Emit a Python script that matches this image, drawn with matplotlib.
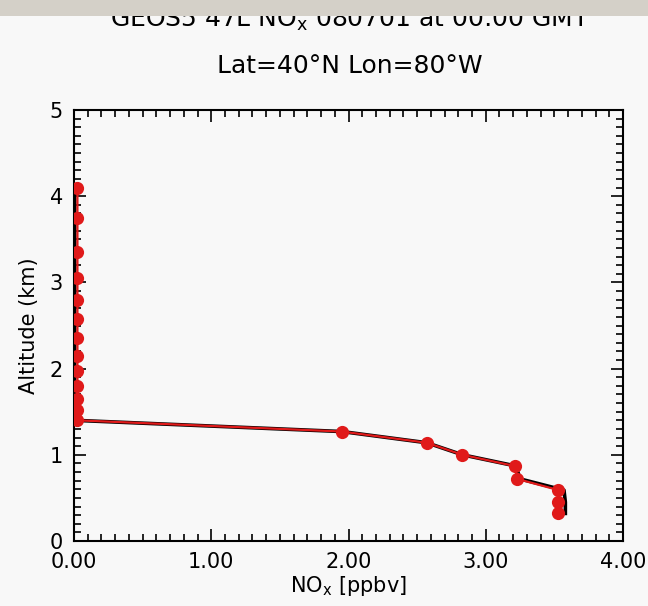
import matplotlib
matplotlib.use("Agg")
import matplotlib.pyplot as plt
from matplotlib.patches import Rectangle
from matplotlib.ticker import MultipleLocator, FormatStrFormatter

# vertical profile
alt_km = [4.10, 3.75, 3.35, 3.05, 2.80, 2.57, 2.35, 2.15, 1.97, 1.80, 1.65, 1.52, 1.40,
          1.27, 1.14, 1.00, 0.87, 0.72, 0.59, 0.45, 0.32]
nox_red = [0.025] * 13 + [1.95, 2.57, 2.83, 3.21, 3.23, 3.53, 3.53, 3.53]
nox_black = [0.005] * 13 + [1.95, 2.57, 2.83, 3.22, 3.25, 3.57, 3.58, 3.58]

title1 = r"GEOS5 47L NO$_\mathrm{x}$ 080701 at 00:00 GMT"
title2 = "Lat=40\u00b0N Lon=80\u00b0W"

fig = plt.figure(figsize=(6.48, 6.06), dpi=100, facecolor="#f8f8f8")
ax = fig.add_axes([74 / 648, 65 / 606, 549 / 648, 431 / 606])
ax.set_facecolor("#f8f8f8")

ax.plot(nox_black, alt_km, color="black", lw=2.6, zorder=2)
ax.plot(nox_red, alt_km, color="#e01a1a", lw=1.6, marker="o", ms=9.5,
        markeredgewidth=0, zorder=3)

ax.set_xlim(0, 4)
ax.set_ylim(0, 5)
ax.xaxis.set_major_locator(MultipleLocator(1))
ax.xaxis.set_minor_locator(MultipleLocator(0.1))
ax.yaxis.set_major_locator(MultipleLocator(1))
ax.yaxis.set_minor_locator(MultipleLocator(0.1))
ax.xaxis.set_major_formatter(FormatStrFormatter("%.2f"))
ax.tick_params(which="both", direction="in", top=True, right=True, width=1.2,
               labelsize=15)
ax.tick_params(which="major", length=8.5, pad=8)
ax.tick_params(which="minor", length=5)
for s in ax.spines.values():
    s.set_linewidth(1.5)

ax.set_xlabel(r"NO$_\mathrm{x}$ [ppbv]", fontsize=15, labelpad=1)
ax.set_ylabel("Altitude (km)", fontsize=15, labelpad=8)

fig.text(0.54, 1 - 20 / 606, title1, ha="center", va="center", fontsize=18)
fig.text(0.54, 1 - 66 / 606, title2, ha="center", va="center", fontsize=18)

# grey strip across the top that hides part of the first title line
band = Rectangle((0, 1 - 16 / 606), 1, 16 / 606, transform=fig.transFigure,
                 facecolor="#d4d0c8", edgecolor="none", zorder=10)
fig.add_artist(band)

plt.savefig("out.png", dpi=100, facecolor=fig.get_facecolor())
